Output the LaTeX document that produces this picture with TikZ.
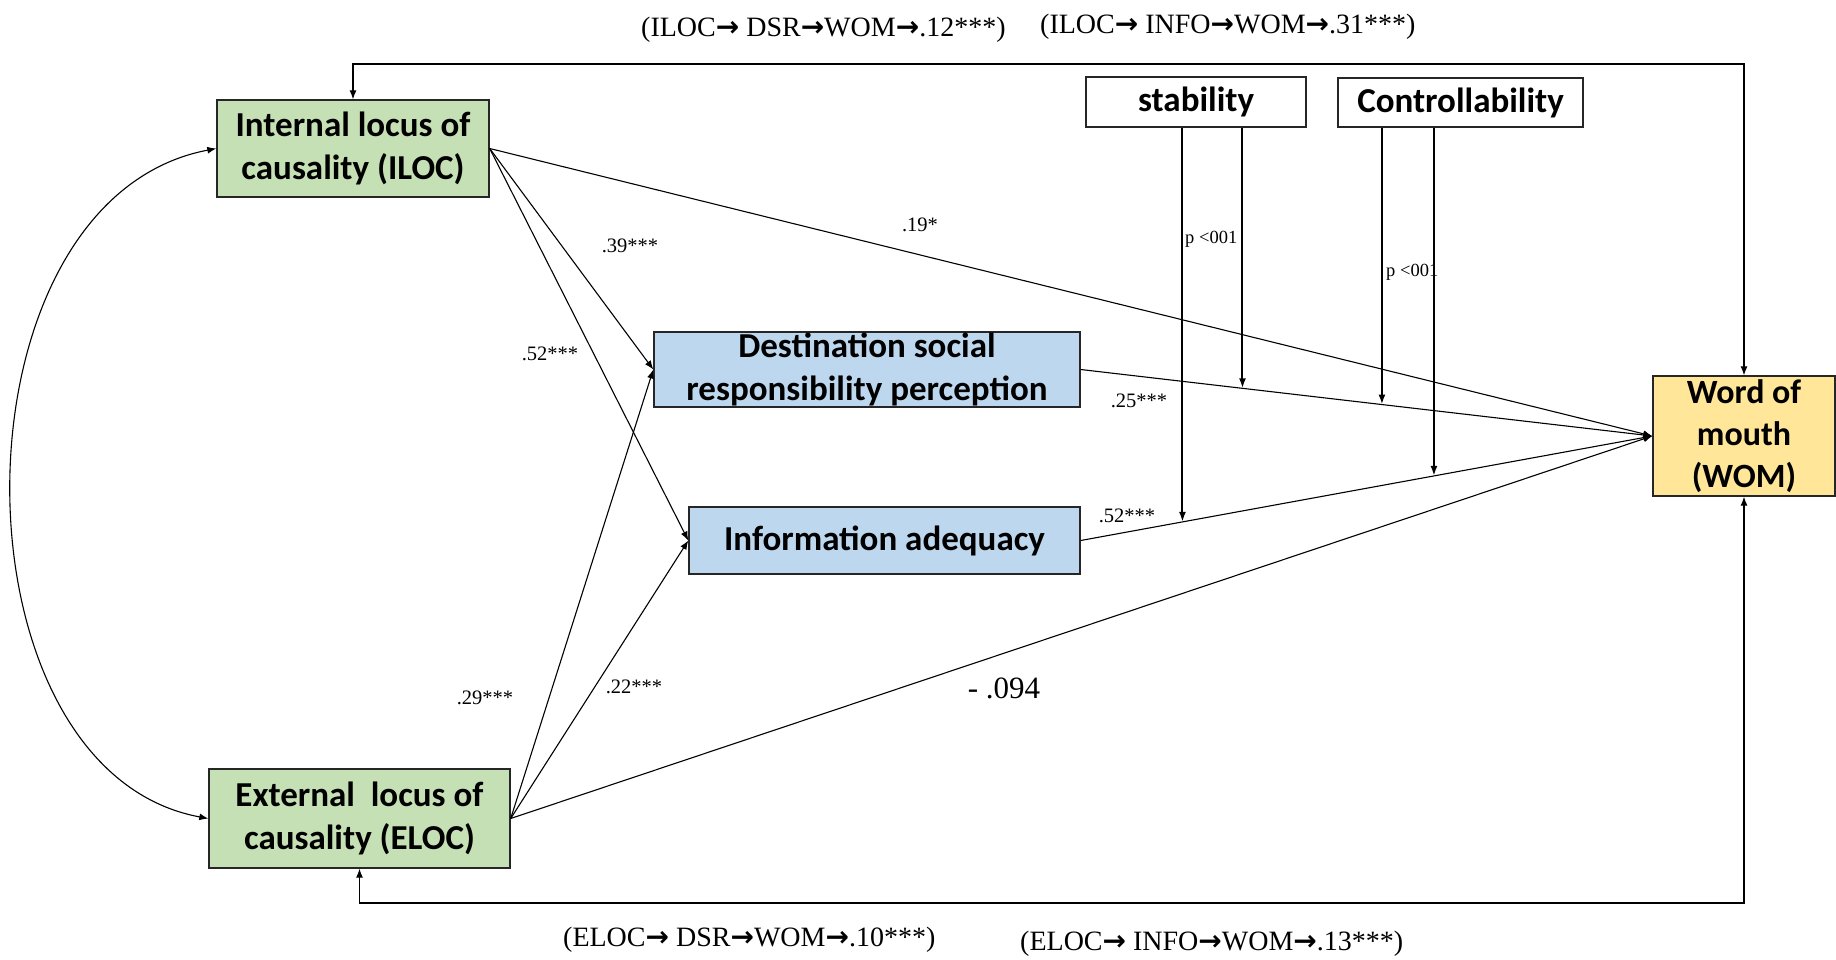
\documentclass[tikz,border=0pt]{standalone}
\usepackage{fontspec}
\setmainfont{Liberation Serif}
\newfontfamily\boxfont{Carlito}
\newfontfamily\arrfont{DejaVu Sans}
\usetikzlibrary{arrows.meta,calc}
\newcommand{\myarr}{{\arrfont\bfseries →}}
\definecolor{lgreen}{HTML}{C5E0B4}
\definecolor{lblue}{HTML}{BDD7EE}
\definecolor{lgold}{HTML}{FFE699}
\begin{document}
\begin{tikzpicture}[x=1pt,y=-1pt,
  box/.style={draw=black!85, line width=1.4pt, inner sep=0pt, align=center,
    font=\boxfont\bfseries\fontsize{35}{43}\selectfont},
  conn/.style={line width=1.1pt, -{Latex[length=9pt,width=7pt]}},
  both/.style={line width=1.1pt, {Latex[length=9pt,width=7pt]}-{Latex[length=9pt,width=7pt]}},
  mod/.style={line width=2pt, -{Latex[length=10pt,width=7pt]}},
  lab/.style={inner sep=0pt, font=\fontsize{20.5}{20.5}\selectfont},
  plab/.style={inner sep=0pt, font=\fontsize{18.5}{18.5}\selectfont},
  biglab/.style={inner sep=0pt, font=\fontsize{31}{31}\selectfont},
  toplab/.style={inner sep=0pt, anchor=west, font=\fontsize{28}{28}\selectfont}]
\useasboundingbox[fill=white] (0,0) rectangle (1836,959);

% boxes
\node[box, fill=lgreen, minimum width=272, minimum height=97] (iloc) at (353,148.5) {Internal locus of\\causality (ILOC)};
\node[box, fill=lgreen, minimum width=301, minimum height=99] (eloc) at (359.5,818.5) {External\ \ locus of\\causality (ELOC)};
\node[box, fill=lblue, minimum width=426, minimum height=75] (dsr) at (867,369.5) {Destination social\\responsibility perception};
\node[box, fill=lblue, minimum width=391, minimum height=67] (info) at (884.5,540.5) {Information adequacy};
\node[box, fill=lgold, minimum width=182, minimum height=120, font=\boxfont\bfseries\fontsize{34}{42}\selectfont] (wom) at (1744,436) {Word of\\mouth\\(WOM)};
\node[box, fill=white, minimum width=220, minimum height=50] (stab) at (1196,102) {stability};
\node[box, fill=white, minimum width=245, minimum height=49] (ctrl) at (1460.5,102.5) {Controllability};

% paths
\draw[conn] (iloc.east) -- (dsr.west);
\draw[conn] (iloc.east) -- (info.west);
\draw[conn] (iloc.east) -- (wom.west);
\draw[conn] (eloc.east) -- (dsr.west);
\draw[conn] (eloc.east) -- (info.west);
\draw[conn] (eloc.east) -- (wom.west);
\draw[conn] (dsr.east) -- (wom.west);
\draw[conn] (info.east) -- (wom.west);

% covariance
\draw[both] (iloc.west) .. controls (-55,200) and (-55,770) .. (eloc.west);

% feedback loops
\coordinate (topy) at (1000,64);
\coordinate (boty) at (1000,903);
\draw[both] (iloc.north) |- (topy) -| (wom.north);
\draw[both] (eloc.south) |- (boty) -| (wom.south);

% moderators
\coordinate (m1) at ($(info.east)!0.178!(wom.west)$);
\coordinate (m2) at ($(dsr.east)!0.283!(wom.west)$);
\coordinate (m3) at ($(dsr.east)!0.527!(wom.west)$);
\coordinate (m4) at ($(info.east)!0.618!(wom.west)$);
\draw[mod] (stab.south -| m1) -- (m1);
\draw[mod] (stab.south -| m2) -- (m2);
\draw[mod] (ctrl.south -| m3) -- (m3);
\draw[mod] (ctrl.south -| m4) -- (m4);

% labels
\node[lab] (l39) at (630,246) {.39***};
\node[lab] (l52a) at (550,354) {.52***};
\node[lab] (l19) at (920,225) {.19*};
\node[lab] (l25) at (1139,401) {.25***};
\node[lab] (l52b) at (1127,516) {.52***};
\node[lab] (l29) at (485,698) {.29***};
\node[lab] (l22) at (634,687) {.22***};
\node[biglab] (l094) at (1004,688) {- .094};
\node[plab, anchor=west] (p1) at (1185,239) {p <001};
\node[plab, anchor=west] (p2) at (1386,272) {p <001};

\node[toplab] (t1) at (641,30) {(ILOC\myarr{} DSR\myarr WOM\myarr.12***)};
\node[toplab] (t2) at (1040,27) {(ILOC\myarr{} INFO\myarr WOM\myarr.31***)};
\node[toplab] (b1) at (563,940) {(ELOC\myarr{} DSR\myarr WOM\myarr.10***)};
\node[toplab] (b2) at (1020,944) {(ELOC\myarr{} INFO\myarr WOM\myarr.13***)};
\end{tikzpicture}
\end{document}
